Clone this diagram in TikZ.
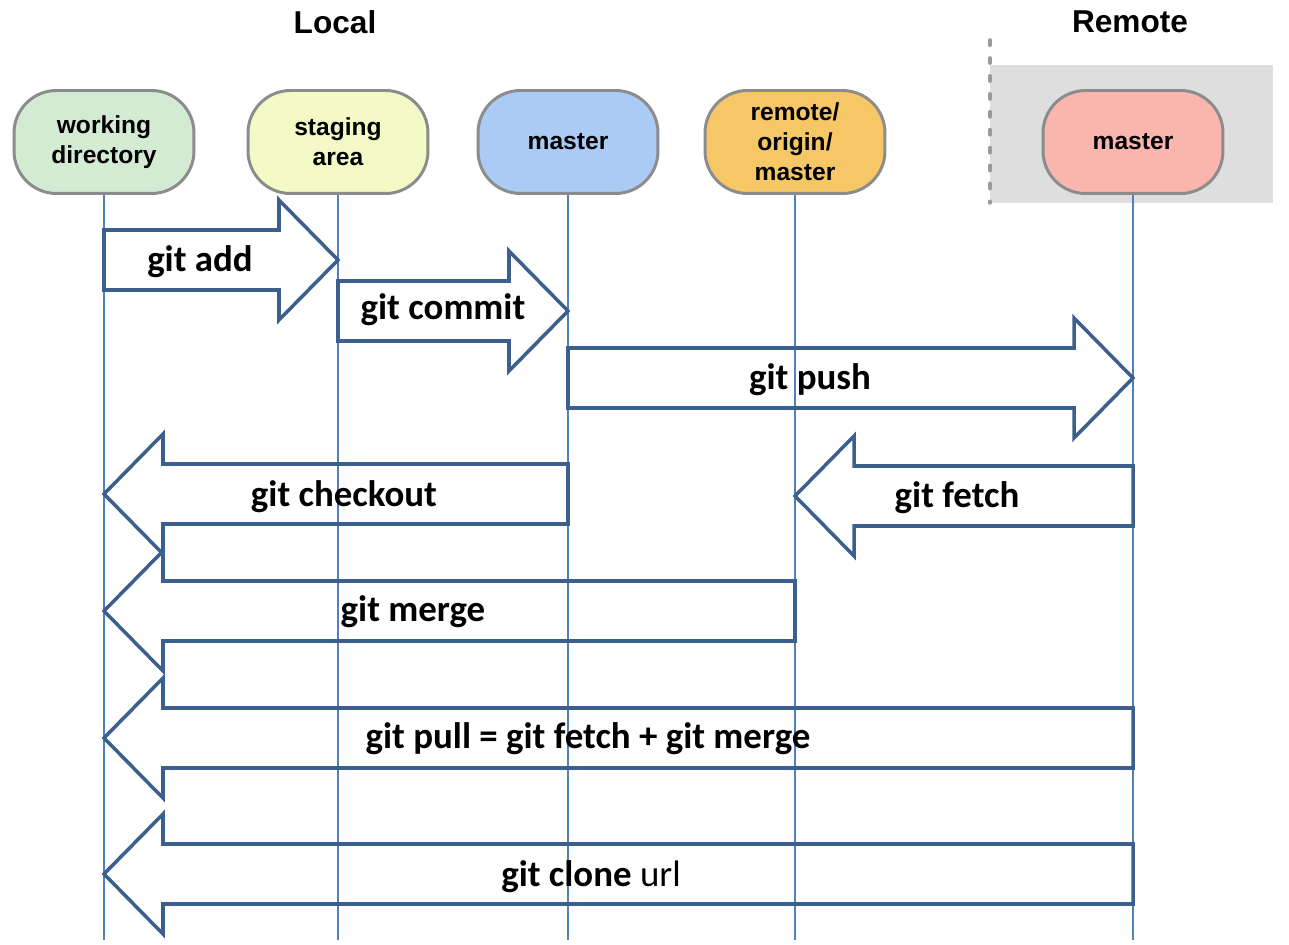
\documentclass[tikz,border=0pt]{standalone}
\usepackage{fontspec}
\setmainfont{Carlito}
\newfontfamily\headfont{Liberation Sans}
\usetikzlibrary{positioning,calc}
\definecolor{lifeblue}    {HTML}{4F81BD}
\definecolor{arrowblue}   {HTML}{3C5F8E}
\definecolor{boxgray}     {HTML}{8C8C8C}
\definecolor{dotgray}     {HTML}{9A9A9A}
\definecolor{wdgreen}     {HTML}{D4EBD3}
\definecolor{stageyellow} {HTML}{F3FAC5}
\definecolor{masterblue}  {HTML}{A9CBF4}
\definecolor{originorange}{HTML}{F6C766}
\definecolor{remotepink}  {HTML}{FAB6AE}
\definecolor{remotebg}    {HTML}{DEDEDE}

% block arrow pointing right: from lifeline #1 to lifeline #2 at height #3
\newcommand{\rightblock}[3]{%
  \path (#1 |- 0,#3) coordinate (s) (#2 |- 0,#3) coordinate (t);
  \draw[blockarrow] ($(s)+(0,-30)$) -- ($(t)+(-59,-30)$) -- ++(0,-30) -- (t)
    -- ($(t)+(-59,60)$) -- ++(0,-30) -- ($(s)+(0,30)$) -- cycle;}
% block arrow pointing left: from lifeline #1 back to lifeline #2 at height #3
\newcommand{\leftblock}[3]{%
  \path (#1 |- 0,#3) coordinate (s) (#2 |- 0,#3) coordinate (t);
  \draw[blockarrow] (t) -- ($(t)+(59,-60)$) -- ++(0,30) -- ($(s)+(0,-30)$)
    -- ++(0,60) -- ($(t)+(59,30)$) -- ++(0,30) -- cycle;}

\begin{document}
\begin{tikzpicture}[x=0.02cm,y=-0.02cm,
    lane/.style={draw=boxgray,line width=1.7pt,rounded corners=0.85cm,
      minimum width=3.6cm,minimum height=2.06cm,align=center,
      font=\headfont\bfseries\fontsize{14}{17}\selectfont},
    side/.style={font=\headfont\bfseries\fontsize{18}{22}\selectfont},
    lifeline/.style={lifeblue,line width=0.9pt},
    blockarrow/.style={arrowblue,line width=2pt,line join=miter},
    gitcmd/.style={font=\bfseries\fontsize{21}{25}\selectfont}]
  \useasboundingbox (0,0) rectangle (1289,945);
  % remote side
  \fill[remotebg] (990,65) rectangle (1273,203);
  \draw[dotgray,line width=2pt,line cap=round,dash pattern=on 3pt off 7.2pt] (990,40) -- (990,203);
  \node[side] (local) at (335,22) {Local};
  \node[side] (remote) at (1130,22) {Remote};
  % lanes
  \node[lane,fill=wdgreen] (wd) at (104,142) {working\\directory};
  \node[lane,fill=stageyellow] (stage) at (338,142) {staging\\area};
  \node[lane,fill=masterblue] (lmaster) at (568,142) {master};
  \node[lane,fill=originorange] (origin) at (795,142) {remote/\\origin/\\master};
  \node[lane,fill=remotepink] (rmaster) at (1133,142) {master};
  \coordinate (bottom) at (0,940);
  \foreach \n in {wd,stage,lmaster,origin,rmaster}
    \draw[lifeline] (\n.south) -- (\n.south |- bottom);
  % commands
  \rightblock{wd}{stage}{260}
  \node[gitcmd] (add) at (200,262) {git add};
  \rightblock{stage}{lmaster}{311}
  \node[gitcmd] (commit) at (443,310) {git commit};
  \rightblock{lmaster}{rmaster}{378}
  \node[gitcmd] (push) at (810,380) {git push};
  \leftblock{lmaster}{wd}{494}
  \node[gitcmd] (checkout) at (344,497) {git checkout};
  \leftblock{rmaster}{origin}{496}
  \node[gitcmd] (fetch) at (957,498) {git fetch};
  \leftblock{origin}{wd}{611}
  \node[gitcmd] (merge) at (413,612) {git merge};
  \leftblock{rmaster}{wd}{738}
  \node[gitcmd] (pull) at (588,739) {git pull = git fetch + git merge};
  \leftblock{rmaster}{wd}{874}
  \node[gitcmd] (clone) at (591,877) {git clone \mdseries url};
\end{tikzpicture}
\end{document}
